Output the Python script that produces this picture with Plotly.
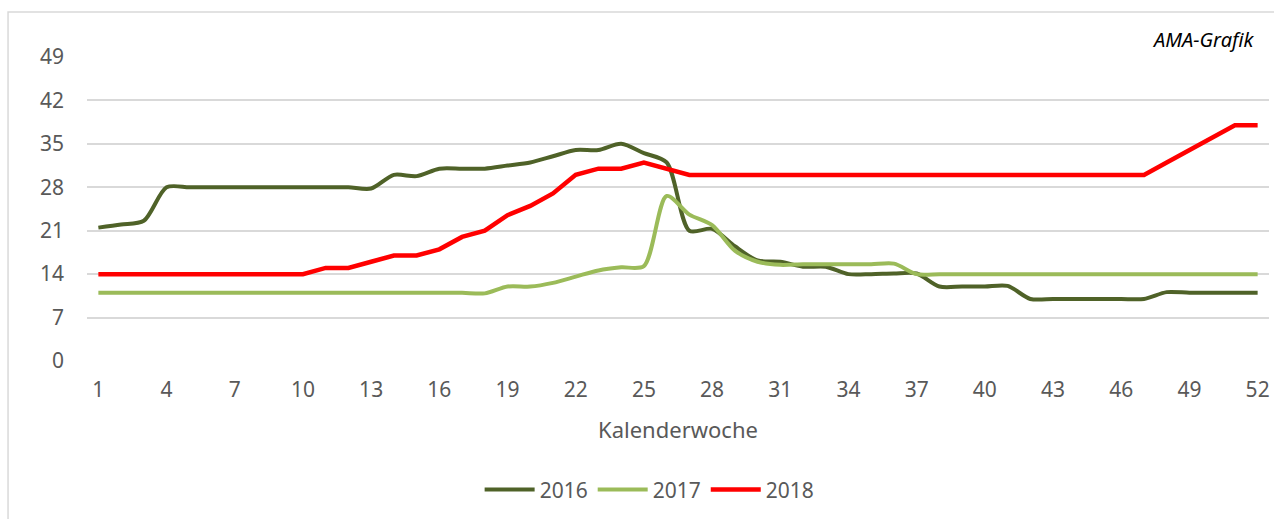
import plotly.graph_objects as go

weeks = list(range(1, 53))
tick_weeks = [1, 4, 7, 10, 13, 16, 19, 22, 25, 28, 31, 34, 37, 40, 43, 46, 49, 52]
y_ticks = [0, 7, 14, 21, 28, 35, 42, 49]

v2016 = [21.5, 22, 22.6, 28, 28, 28, 28, 28, 28, 28, 28, 28, 27.8,
         30, 29.8, 31, 31, 31, 31.5, 32, 33, 34, 34, 35, 33.5, 32,
         21, 21.3, 18.5, 16.2, 16, 15.2, 15.2, 14, 14, 14.1, 14.1, 12, 12,
         12, 12.1, 10, 10, 10, 10, 10, 10, 11.1, 11, 11, 11, 11]
v2017 = [11, 11, 11, 11, 11, 11, 11, 11, 11, 11, 11, 11, 11,
         11, 11, 11, 11, 10.9, 12, 12, 12.6, 13.6, 14.6, 15.1, 15.3, 26.6,
         23.6, 21.9, 17.8, 16, 15.5, 15.6, 15.6, 15.6, 15.6, 15.7, 14, 14, 14,
         14, 14, 14, 14, 14, 14, 14, 14, 14, 14, 14, 14, 14]
v2018 = [14, 14, 14, 14, 14, 14, 14, 14, 14, 14, 15, 15, 16,
         17, 17, 18, 20, 21, 23.5, 25, 27, 30, 31, 31, 32, 31,
         30, 30, 30, 30, 30, 30, 30, 30, 30, 30, 30, 30, 30,
         30, 30, 30, 30, 30, 30, 30, 30, 32, 34, 36, 38, 38]

series = [("2016", v2016, "#4f6228", "spline", 4),
          ("2017", v2017, "#9bbb59", "spline", 4),
          ("2018", v2018, "#ff0000", "linear", 4.5)]

FONT = "Noto Sans"
GREY = "#595959"

fig = go.Figure()
for name, vals, color, shape, w in series:
    fig.add_trace(go.Scatter(
        x=weeks, y=vals, name=name, mode="lines",
        line=dict(color=color, width=w, shape=shape, smoothing=0.8),
    ))

fig.update_layout(
    width=1274, height=519,
    margin=dict(l=87, r=5, t=57, b=158),
    paper_bgcolor="white", plot_bgcolor="white",
    font=dict(family=FONT, size=21, color=GREY),
    showlegend=True,
    legend=dict(orientation="h", x=0.476, xanchor="center", y=-0.424,
                yanchor="middle", font=dict(size=21, color=GREY),
                itemwidth=50, tracegroupgap=0),
    xaxis=dict(range=[0.5, 52.5], tickmode="array", tickvals=tick_weeks,
               ticktext=[str(t) for t in tick_weeks], showgrid=False,
               zeroline=False, showline=False, ticks="",
               ticklabelstandoff=14,
               tickfont=dict(size=21, color=GREY),
               title=dict(text="Kalenderwoche", font=dict(size=22, color=GREY),
                          standoff=20)),
    yaxis=dict(range=[0, 49], tickmode="array", tickvals=y_ticks,
               showgrid=True, gridcolor="#d9d9d9", gridwidth=1.5,
               zeroline=False, showline=False, ticks="",
               ticklabelstandoff=22,
               tickfont=dict(size=21, color=GREY)),
    shapes=[dict(type="rect", xref="paper", yref="paper",
                 x0=-0.0668, x1=1.02, y0=-0.6, y1=1.148,
                 line=dict(color="#d9d9d9", width=1.5), fillcolor="rgba(0,0,0,0)",
                 layer="below")],
    annotations=[dict(text="<i>AMA-Grafik</i>", xref="paper", yref="paper",
                      x=0.990, y=1.056, xanchor="right", yanchor="middle",
                      showarrow=False, font=dict(size=20, color="#000000", family=FONT))],
)

fig.write_html(
    "out.html",
    config={"displayModeBar": False},
    post_script="document.body.style.margin='0px';document.body.style.overflow='hidden';",
)
